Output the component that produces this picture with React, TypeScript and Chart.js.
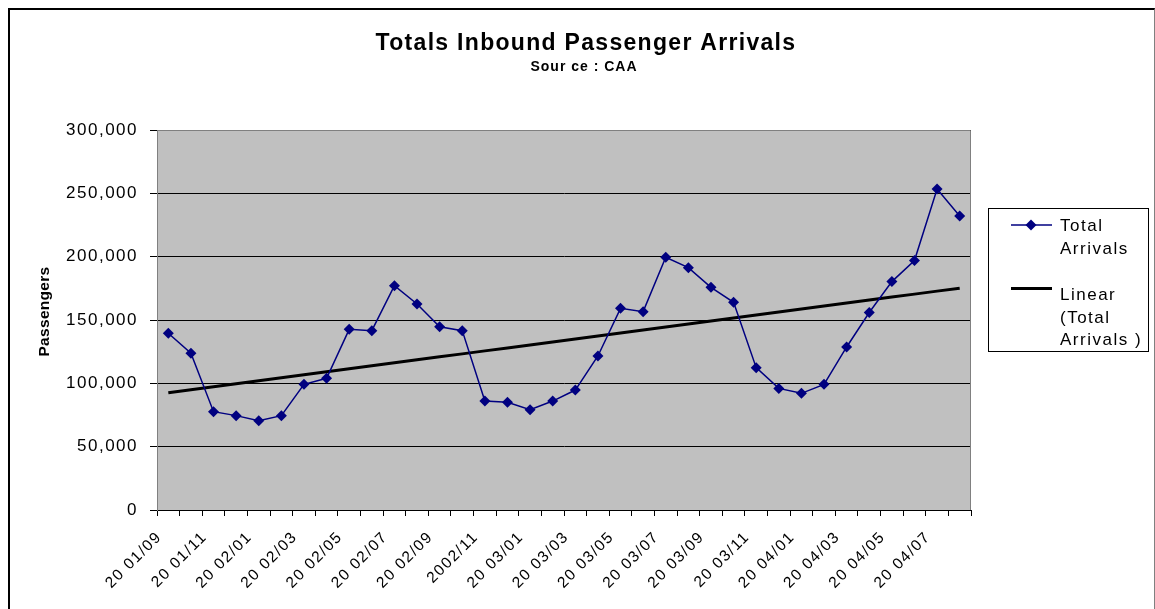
import React, { useEffect, useRef } from 'react';
import { Chart, registerables } from 'chart.js';

Chart.register(...registerables);

const categories = [
  '2001/09', '2001/10', '2001/11', '2001/12',
  '2002/01', '2002/02', '2002/03', '2002/04', '2002/05', '2002/06',
  '2002/07', '2002/08', '2002/09', '2002/10', '2002/11', '2002/12',
  '2003/01', '2003/02', '2003/03', '2003/04', '2003/05', '2003/06',
  '2003/07', '2003/08', '2003/09', '2003/10', '2003/11', '2003/12',
  '2004/01', '2004/02', '2004/03', '2004/04', '2004/05', '2004/06',
  '2004/07', '2004/08',
];

const tickLabels = [
  '20 01/09', '', '20 01/11', '', '20 02/01', '', '20 02/03', '', '20 02/05', '',
  '20 02/07', '', '20 02/09', '', '2002/11', '', '20 03/01', '', '20 03/03', '',
  '20 03/05', '', '20 03/07', '', '20 03/09', '', '20 03/11', '', '20 04/01', '',
  '20 04/03', '', '20 04/05', '', '20 04/07', '',
];

const totalArrivals = [
  139500, 123700, 77600, 74500, 70500, 74500, 99200, 104000, 142600, 141600,
  177100, 162600, 144700, 141600, 86000, 85000, 79200, 86000, 94700, 121600,
  159200, 156600, 199500, 191300, 175800, 164000, 112400, 96000, 92100, 99200,
  128700, 155900, 180300, 196900, 253400, 232100,
];

const yTicks = [0, 50000, 100000, 150000, 200000, 250000, 300000];

const titleText = 'Totals Inbound Passenger Arrivals';
const subtitleText = 'Sour ce : CAA';
const yAxisTitle = 'Passengers';
const legendSeries = ['Total', 'Arrivals'];
const legendTrend = ['Linear', '(Total', 'Arrivals )'];

// least-squares trend of the series (Excel "Linear" trendline)
function linearTrend(values: number[]): number[] {
  const n = values.length;
  let sx = 0, sy = 0, sxx = 0, sxy = 0;
  values.forEach((v, i) => { sx += i; sy += v; sxx += i * i; sxy += i * v; });
  const slope = (n * sxy - sx * sy) / (n * sxx - sx * sx);
  const intercept = (sy - slope * sx) / n;
  return values.map((_, i) => intercept + slope * i);
}

const FONT = '"Liberation Sans", Arial, sans-serif';
const NAVY = '#000080';

const decorPlugin = {
  id: 'decor',
  beforeDraw(chart: any) {
    const { ctx, chartArea } = chart;
    ctx.save();
    ctx.fillStyle = '#C0C0C0';
    ctx.fillRect(chartArea.left, chartArea.top, chartArea.right - chartArea.left, chartArea.bottom - chartArea.top);
    ctx.restore();
    ctx.letterSpacing = '1.5px';
  },
  afterDraw(chart: any) {
    const { ctx, chartArea } = chart;
    ctx.save();
    // plot frame (grey) on top, left and right
    ctx.strokeStyle = '#808080';
    ctx.lineWidth = 1;
    ctx.beginPath();
    ctx.moveTo(chartArea.left + 0.5, chartArea.bottom);
    ctx.lineTo(chartArea.left + 0.5, chartArea.top + 0.5);
    ctx.lineTo(chartArea.right - 0.5, chartArea.top + 0.5);
    ctx.lineTo(chartArea.right - 0.5, chartArea.bottom);
    ctx.stroke();

    // title
    ctx.fillStyle = '#000';
    ctx.textAlign = 'center';
    ctx.textBaseline = 'alphabetic';
    ctx.letterSpacing = '1.3px';
    ctx.font = `bold 23px ${FONT}`;
    ctx.fillText(titleText, 586, 50);
    ctx.letterSpacing = '1px';
    ctx.font = `bold 14px ${FONT}`;
    ctx.fillText(subtitleText, 584, 71);

    // y axis title
    ctx.save();
    ctx.translate(45, 311.5);
    ctx.rotate(-Math.PI / 2);
    ctx.letterSpacing = '0.3px';
    ctx.font = `bold 15.5px ${FONT}`;
    ctx.textBaseline = 'middle';
    ctx.fillText(yAxisTitle, 0, 0);
    ctx.restore();

    // legend
    ctx.fillStyle = '#fff';
    ctx.fillRect(988, 208, 160, 143);
    ctx.strokeStyle = '#000';
    ctx.lineWidth = 1;
    ctx.strokeRect(988.5, 208.5, 160, 143);

    ctx.strokeStyle = NAVY;
    ctx.lineWidth = 1.5;
    ctx.beginPath();
    ctx.moveTo(1011, 225);
    ctx.lineTo(1052, 225);
    ctx.stroke();
    ctx.fillStyle = NAVY;
    ctx.beginPath();
    ctx.moveTo(1031, 219.5);
    ctx.lineTo(1036.5, 225);
    ctx.lineTo(1031, 230.5);
    ctx.lineTo(1025.5, 225);
    ctx.closePath();
    ctx.fill();

    ctx.strokeStyle = '#000';
    ctx.lineWidth = 3;
    ctx.beginPath();
    ctx.moveTo(1011, 288.5);
    ctx.lineTo(1052, 288.5);
    ctx.stroke();

    ctx.fillStyle = '#000';
    ctx.textAlign = 'left';
    ctx.textBaseline = 'alphabetic';
    ctx.letterSpacing = '1.5px';
    ctx.font = `17px ${FONT}`;
    legendSeries.forEach((t, i) => ctx.fillText(t, 1060, 231 + i * 22.6));
    legendTrend.forEach((t, i) => ctx.fillText(t, 1060, 300 + i * 22.6));
    ctx.restore();
    ctx.letterSpacing = '0px';
  },
};

export default function App() {
  const ref = useRef<HTMLCanvasElement>(null);

  useEffect(() => {
    const canvas = ref.current;
    if (!canvas) return;
    const trend = linearTrend(totalArrivals);
    const chart = new Chart(canvas, {
      type: 'line',
      data: {
        labels: categories,
        datasets: [
          {
            label: 'Total Arrivals',
            data: totalArrivals,
            borderColor: NAVY,
            backgroundColor: NAVY,
            borderWidth: 1.5,
            pointStyle: 'rectRot',
            pointRadius: 5.5,
            pointBorderWidth: 0,
            pointBackgroundColor: NAVY,
            tension: 0,
          },
          {
            label: 'Linear (Total Arrivals )',
            data: trend,
            borderColor: '#000',
            borderWidth: 3,
            pointRadius: 0,
            tension: 0,
          },
        ],
      },
      options: {
        responsive: false,
        devicePixelRatio: 1,
        animation: false,
        layout: { padding: { top: 130, right: 184, bottom: 0, left: 0 } },
        plugins: {
          legend: { display: false },
          title: { display: false },
          tooltip: { enabled: false },
        },
        scales: {
          x: {
            type: 'category',
            offset: true,
            grid: {
              offset: true,
              drawOnChartArea: false,
              drawTicks: true,
              tickLength: 6,
              color: '#000',
            },
            border: { color: '#000', width: 1 },
            ticks: {
              autoSkip: false,
              maxRotation: 45,
              minRotation: 45,
              padding: 12,
              labelOffset: -9,
              color: '#000',
              font: { family: FONT, size: 15.5 },
              callback: (_v: any, i: number) => tickLabels[i],
            },
            afterFit: (scale: any) => { scale.height = 99; },
          },
          y: {
            min: 0,
            max: 300000,
            afterBuildTicks: (scale: any) => { scale.ticks = yTicks.map((v) => ({ value: v })); },
            grid: {
              color: '#000',
              tickLength: 7,
              drawTicks: true,
            },
            border: { color: '#808080', width: 1 },
            ticks: {
              padding: 12,
              color: '#000',
              font: { family: FONT, size: 17 },
              callback: (v: any) => Number(v).toLocaleString('en-US'),
            },
            afterFit: (scale: any) => { scale.width = 157; },
          },
        },
      },
      plugins: [decorPlugin],
    } as any);
    return () => chart.destroy();
  }, []);

  return (
    <div style={{ position: 'fixed', left: 0, top: 0, width: 1155, height: 609, overflow: 'hidden', background: '#fff' }}>
      <canvas ref={ref} width={1155} height={609} style={{ position: 'absolute', left: 0, top: 0, width: 1155, height: 609 }} />
      <div
        style={{
          position: 'absolute', left: 8, top: 8, width: 1147, height: 700,
          borderTop: '2px solid #000', borderLeft: '2px solid #000', borderRight: '1px solid #808080',
          boxSizing: 'border-box', pointerEvents: 'none',
        }}
      />
    </div>
  );
}
